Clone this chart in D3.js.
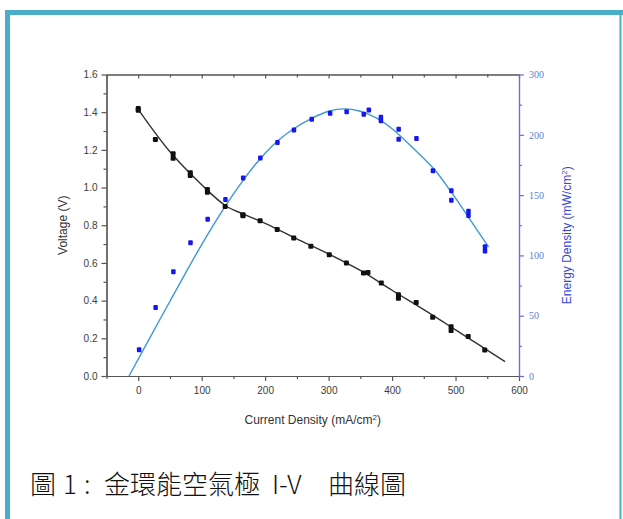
<!DOCTYPE html>
<html>
<head>
<meta charset="utf-8">
<script src="https://cdn.jsdelivr.net/npm/d3@7"></script>
<style>
  html, body { margin: 0; padding: 0; background: #fff; }
  svg { display: block; }
</style>
</head>
<body>
<script>
var width = 623;
var height = 519;

// measured points: current density (mA/cm2) and voltage (V)
var voltCurrent = [0, 0, 27, 55, 55, 82, 82, 109, 109, 137, 165, 165, 192, 219, 245, 272, 301, 328, 355, 362, 383, 410, 410, 438, 464, 493, 493, 520, 546];
var voltValues  = [1.42, 1.41, 1.255, 1.18, 1.156, 1.078, 1.064, 0.99, 0.975, 0.90, 0.856, 0.85, 0.824, 0.777, 0.732, 0.688, 0.644, 0.60, 0.546, 0.549, 0.493, 0.431, 0.413, 0.39, 0.312, 0.262, 0.241, 0.209, 0.138];

// measured points: current density and energy density (mW/cm2)
var energyCurrent = [1, 27, 55, 82, 109, 137, 165, 192, 219, 245, 273, 302, 328, 355, 363, 382, 382, 410, 410, 438, 464, 493, 493, 520, 520, 546, 546];
var energyValues  = [21.7, 56.7, 86.5, 110.5, 130, 146.3, 164.2, 180.7, 193.6, 204, 212.9, 217.8, 219.2, 217, 220.6, 214.5, 211.7, 204.6, 196.4, 196.9, 170.2, 153.7, 145.7, 136.6, 133, 107.2, 103.6];

// fitted curves
var voltFitCurrent = [0, 50, 100, 137, 165, 200, 250, 300, 350, 400, 450, 500, 578];
var voltFitValues  = [1.415, 1.19, 1.015, 0.905, 0.86, 0.81, 0.728, 0.648, 0.56, 0.455, 0.352, 0.245, 0.076];
var energyFitCurrent = [-14.5, 0, 50, 100, 135, 165, 192, 220, 245, 275, 300, 325, 350, 375, 400, 435, 467, 494, 520, 552];
var energyFitValues  = [0, 14, 62, 109, 139, 162, 180, 195, 205, 214, 219.5, 221.5, 219.5, 214, 205, 188, 171, 152, 132, 107];

// axis ticks
var xTicks = [0, 100, 200, 300, 400, 500, 600];
var xMinorTicks = [-50, 50, 150, 250, 350, 450, 550];
var voltTicks = [0, 0.2, 0.4, 0.6, 0.8, 1.0, 1.2, 1.4, 1.6];
var voltMinorTicks = [0.1, 0.3, 0.5, 0.7, 0.9, 1.1, 1.3, 1.5];
var energyTicks = [0, 50, 100, 150, 200, 250];
var energyTickLabels = ["0", "50", "100", "150", "200", "300"];  // as printed on the figure
var energyMinorTicks = [25, 75, 125, 175, 225];

// caption pieces and where each one starts
var captionParts = ["圖", "1", ":", "金環能空氣極", "I-V", "曲線圖"];
var captionX = [30, 63, 84, 104, 272, 328];

var svg = d3.select("body").append("svg")
    .attr("width", width)
    .attr("height", height);

// teal frame
var frameColor = "#4aaec8";
svg.append("rect").attr("x", 5).attr("y", 10).attr("width", 5).attr("height", height - 10).attr("fill", frameColor);
svg.append("rect").attr("x", 5).attr("y", 10).attr("width", width - 5).attr("height", 5).attr("fill", frameColor);
svg.append("rect").attr("x", 619.5).attr("y", 10).attr("width", 2).attr("height", height - 10).attr("fill", frameColor);

var plotLeft = 106.5, plotRight = 519, plotTop = 74.5, plotBottom = 376;

var x = d3.scaleLinear().domain([-50, 600]).range([plotLeft, plotRight]);
var yV = d3.scaleLinear().domain([0, 1.6]).range([plotBottom, plotTop]);
var yE = d3.scaleLinear().domain([0, 250]).range([plotBottom, plotTop]);

var grey = "#555";
var blueAxis = "#6c6ce0";

function styleAxis(g, color) {
    g.select(".domain").attr("stroke", color).attr("stroke-width", 1.2);
    g.selectAll(".tick line").attr("stroke", color).attr("stroke-width", 1.2);
    g.selectAll("text")
        .attr("fill", "#3c3c3c")
        .style("font-family", "'Liberation Sans', Arial, sans-serif")
        .style("font-size", "10px");
}

// bottom axis
var gx = svg.append("g").attr("transform", "translate(0," + plotBottom + ")")
    .call(d3.axisBottom(x).tickValues(xTicks).tickSize(5).tickSizeOuter(0).tickPadding(6).tickFormat(d3.format("d")));
styleAxis(gx, grey);
var gxm = svg.append("g").attr("transform", "translate(0," + plotBottom + ")")
    .call(d3.axisBottom(x).tickValues(xMinorTicks).tickSize(3).tickSizeOuter(0).tickFormat(""));
styleAxis(gxm, grey);

// top axis (ticks pointing inward)
var gt = svg.append("g").attr("transform", "translate(0," + plotTop + ")")
    .call(d3.axisBottom(x).tickValues(xTicks).tickSize(4).tickSizeOuter(0).tickFormat(""));
styleAxis(gt, grey);
var gtm = svg.append("g").attr("transform", "translate(0," + plotTop + ")")
    .call(d3.axisBottom(x).tickValues(xMinorTicks).tickSize(3).tickSizeOuter(0).tickFormat(""));
styleAxis(gtm, grey);

// left axis
var gy = svg.append("g").attr("transform", "translate(" + plotLeft + ",0)")
    .call(d3.axisLeft(yV).tickValues(voltTicks).tickSize(5).tickSizeOuter(0).tickPadding(4).tickFormat(d3.format(".1f")));
styleAxis(gy, grey);
var gym = svg.append("g").attr("transform", "translate(" + plotLeft + ",0)")
    .call(d3.axisLeft(yV).tickValues(voltMinorTicks).tickSize(3).tickSizeOuter(0).tickFormat(""));
styleAxis(gym, grey);

// right axis
var gr = svg.append("g").attr("transform", "translate(" + plotRight + ",0)")
    .call(d3.axisRight(yE).tickValues(energyTicks).tickSize(5).tickSizeOuter(0).tickPadding(5)
        .tickFormat(function(d, i) { return energyTickLabels[i]; }));
styleAxis(gr, blueAxis);
gr.selectAll("text").attr("fill", "#5b7fd4")
    .style("font-family", "'Liberation Serif', 'Times New Roman', serif")
    .style("font-size", "10px");
var grm = svg.append("g").attr("transform", "translate(" + plotRight + ",0)")
    .call(d3.axisRight(yE).tickValues(energyMinorTicks).tickSize(3).tickSizeOuter(0).tickFormat(""));
styleAxis(grm, blueAxis);

// axis titles
var titleFont = "'Liberation Sans', Arial, sans-serif";
var xt = svg.append("text")
    .attr("x", (plotLeft + plotRight) / 2).attr("y", 424)
    .attr("text-anchor", "middle")
    .style("font-family", titleFont).style("font-size", "12px").attr("fill", "#333");
xt.append("tspan").text("Current Density (mA/cm");
xt.append("tspan").attr("dy", -4).style("font-size", "8px").text("2");
xt.append("tspan").attr("dy", 4).text(")");

svg.append("text")
    .attr("transform", "translate(67," + ((plotTop + plotBottom) / 2) + ") rotate(-90)")
    .attr("text-anchor", "middle")
    .style("font-family", titleFont).style("font-size", "12px").attr("fill", "#333")
    .text("Voltage (V)");

var et = svg.append("text")
    .attr("transform", "translate(571," + ((plotTop + plotBottom) / 2 + 10) + ") rotate(-90)")
    .attr("text-anchor", "middle")
    .style("font-family", titleFont).style("font-size", "12px").attr("fill", "#3347d6");
et.append("tspan").text("Energy Density (mW/cm");
et.append("tspan").attr("dy", -4).style("font-size", "8px").text("2");
et.append("tspan").attr("dy", 4).text(")");

// fit lines
var voltFit = voltFitCurrent.map(function(c, i) { return [c, voltFitValues[i]]; });
var energyFit = energyFitCurrent.map(function(c, i) { return [c, energyFitValues[i]]; });

svg.append("path")
    .datum(voltFit)
    .attr("fill", "none")
    .attr("stroke", "#333")
    .attr("stroke-width", 1.4)
    .attr("d", d3.line().x(function(d) { return x(d[0]); }).y(function(d) { return yV(d[1]); }).curve(d3.curveCatmullRom));

svg.append("path")
    .datum(energyFit)
    .attr("fill", "none")
    .attr("stroke", "#3c98d4")
    .attr("stroke-width", 1.4)
    .attr("d", d3.line().x(function(d) { return x(d[0]); }).y(function(d) { return yE(d[1]); }).curve(d3.curveCatmullRom));

// points
var voltPts = voltCurrent.map(function(c, i) { return {c: c, v: voltValues[i]}; });
var energyPts = energyCurrent.map(function(c, i) { return {c: c, v: energyValues[i]}; });

svg.append("g").selectAll("rect")
    .data(voltPts)
    .enter().append("rect")
    .attr("x", function(d) { return x(d.c) - 2.5; })
    .attr("y", function(d) { return yV(d.v) - 2.5; })
    .attr("width", 5)
    .attr("height", 5)
    .attr("rx", 1)
    .attr("fill", "#111");

svg.append("g").selectAll("rect")
    .data(energyPts)
    .enter().append("rect")
    .attr("x", function(d) { return x(d.c) - 2; })
    .attr("y", function(d) { return yE(d.v) - 2.5; })
    .attr("width", 4.5)
    .attr("height", 5)
    .attr("rx", 1)
    .attr("fill", "#1616ee");

// caption
var cap = svg.append("text")
    .attr("y", 494)
    .style("font-family", "'Noto Sans CJK TC', 'Noto Sans CJK SC', sans-serif")
    .style("font-weight", 300)
    .style("font-size", "26px")
    .attr("fill", "#111");
cap.selectAll("tspan")
    .data(captionParts)
    .enter().append("tspan")
    .attr("x", function(d, i) { return captionX[i]; })
    .text(function(d) { return d; });
</script>
</body>
</html>
